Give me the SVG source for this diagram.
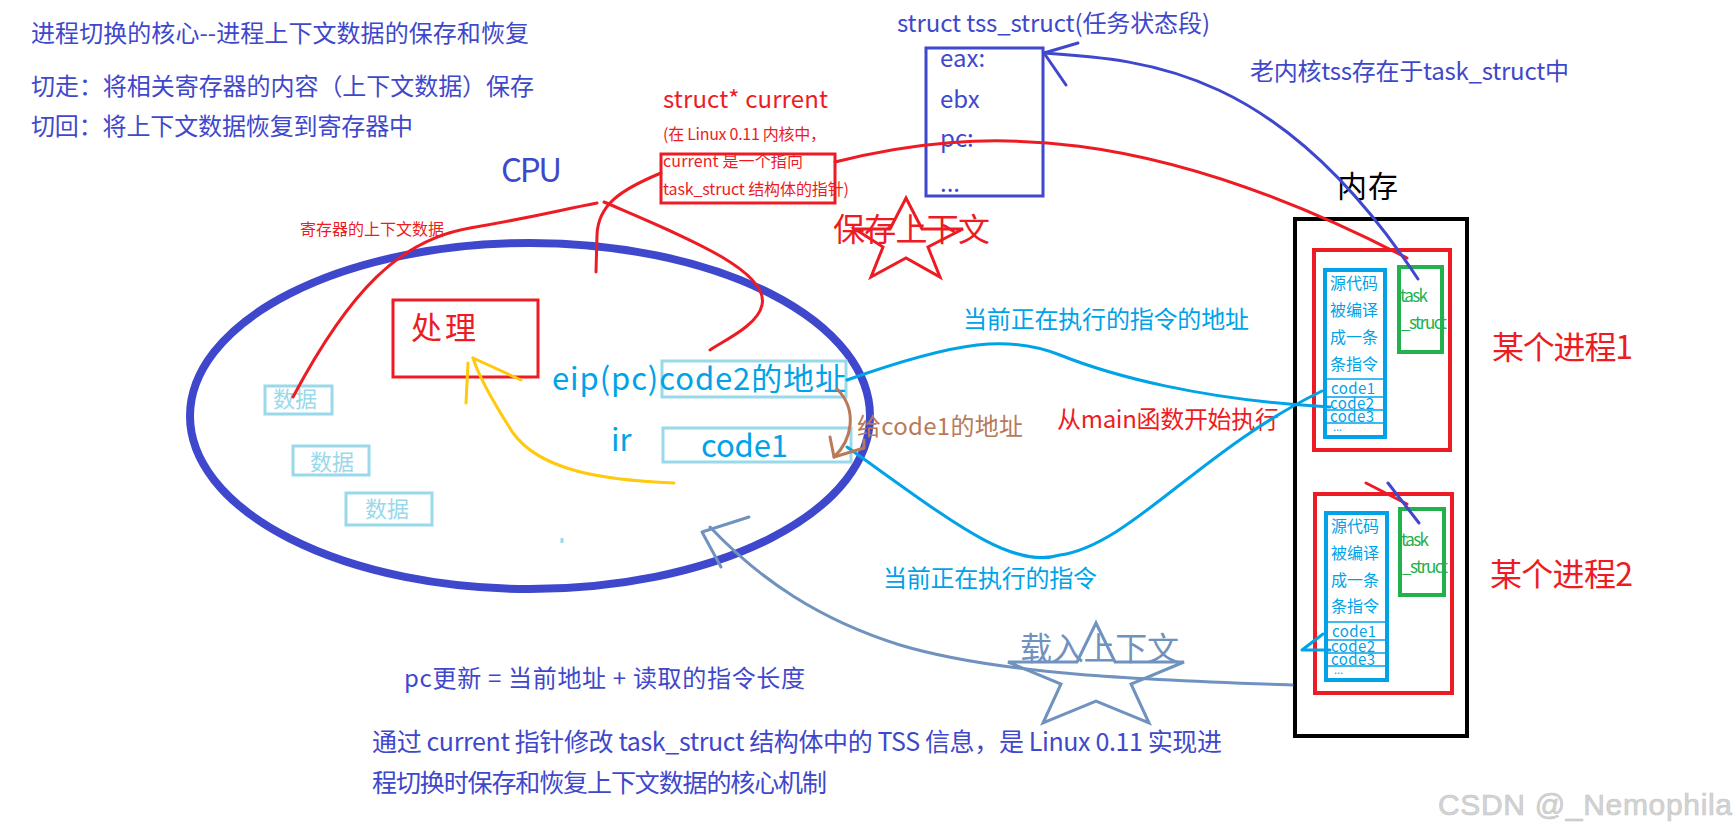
<svg xmlns="http://www.w3.org/2000/svg" width="1736" height="824" viewBox="0 0 1736 824">
<style>
text{font-family:"Noto Sans CJK SC","Noto Sans",sans-serif}
.pu{fill:#3f48cc}
.rd{fill:#ed1c24}
.cy{fill:#00a2e8}
.lb{fill:#99d9ea}
.gr{fill:#22b14c}
.br{fill:#b97a57}
.gb{fill:#7092be}
.ln{fill:none;stroke-linecap:round;stroke-linejoin:round}
.sred{stroke:#ed1c24;stroke-width:3}
.spu{stroke:#3f48cc;stroke-width:3}
.scy{stroke:#00a2e8;stroke-width:3}
.sgb{stroke:#7092be;stroke-width:3}
.sye{stroke:#ffc90e;stroke-width:3}
.sbr{stroke:#b97a57;stroke-width:3}
.sep{stroke:#00a2e8;stroke-width:1.5}
.code{font-size:15px}
</style>

<g id="titles">
<text x="31" y="42" font-size="24" class="pu" textLength="498">进程切换的核心--进程上下文数据的保存和恢复</text>
<text x="31" y="95" font-size="24" class="pu" textLength="503">切走：将相关寄存器的内容（上下文数据）保存</text>
<text x="31" y="135" font-size="24" class="pu" textLength="382">切回：将上下文数据恢复到寄存器中</text>
<text x="404" y="687" font-size="24" class="pu" textLength="401">pc更新 = 当前地址 + 读取的指令长度</text>
<text x="372" y="751" font-size="25" class="pu" textLength="850">通过 current 指针修改 task_struct 结构体中的 TSS 信息，是 Linux 0.11 实现进</text>
<text x="372" y="792" font-size="25" class="pu" textLength="455">程切换时保存和恢复上下文数据的核心机制</text>
<text x="1438" y="815" font-size="30" fill="#d4d4d4" stroke="#c4c4c4" stroke-width="0.6" style="font-family:'Liberation Sans',Arial,sans-serif" textLength="294">CSDN @_Nemophila</text>
</g>

<g id="cpu">
<ellipse cx="530" cy="416" rx="340" ry="173" fill="none" stroke="#3f48cc" stroke-width="8"/>
<text x="501" y="182" font-size="33" class="pu" textLength="61">CPU</text>
<line x1="562" y1="538" x2="562" y2="543" stroke="#99d9ea" stroke-width="3"/>
</g>

<g id="process-box">
<rect x="393" y="300" width="145" height="77" fill="none" stroke="#ed1c24" stroke-width="3"/>
<text x="411" y="339" font-size="31" class="rd" textLength="65">处理</text>
</g>

<g id="eip">
<rect x="662" y="361" width="184" height="36" fill="none" stroke="#99d9ea" stroke-width="3"/>
<text x="552" y="390" font-size="31" class="cy" textLength="294">eip(pc)code2的地址</text>
</g>

<g id="ir">
<rect x="663" y="428" width="188" height="34" fill="none" stroke="#99d9ea" stroke-width="3"/>
<text x="611" y="451" font-size="31" class="cy">ir</text>
<text x="701" y="457" font-size="31" class="cy" textLength="87">code1</text>
</g>

<g id="data1">
<rect x="265" y="386" width="67" height="28" fill="none" stroke="#99d9ea" stroke-width="3"/>
<text x="273" y="407" font-size="22" class="lb">数据</text>
</g>
<g id="data2">
<rect x="293" y="446" width="76" height="29" fill="none" stroke="#99d9ea" stroke-width="3"/>
<text x="310" y="470" font-size="22" class="lb">数据</text>
</g>
<g id="data3">
<rect x="346" y="493" width="86" height="32" fill="none" stroke="#99d9ea" stroke-width="3"/>
<text x="365" y="517" font-size="22" class="lb">数据</text>
</g>

<g id="current">
<text x="663" y="108" font-size="24" class="rd" textLength="165">struct* current</text>
<text x="663" y="140" font-size="16" class="rd" textLength="163">(在 Linux 0.11 内核中，</text>
<text x="663" y="167" font-size="16" class="rd" textLength="140">current 是一个指向</text>
<text x="663" y="195" font-size="16" class="rd" textLength="186">task_struct 结构体的指针)</text>
<rect x="661" y="154" width="174" height="49" fill="none" stroke="#ed1c24" stroke-width="3"/>
</g>

<g id="tss">
<text x="897" y="32" font-size="24" class="pu" textLength="313">struct tss_struct(任务状态段)</text>
<rect x="926" y="48" width="117" height="148" fill="none" stroke="#3f48cc" stroke-width="3"/>
<text x="940" y="67" font-size="24" class="pu">eax:</text>
<text x="940" y="108" font-size="24" class="pu">ebx</text>
<text x="940" y="147" font-size="24" class="pu">pc:</text>
<text x="940" y="192" font-size="24" class="pu">...</text>
</g>

<g id="labels">
<text x="300" y="235" font-size="16" class="rd" textLength="144">寄存器的上下文数据</text>
<text x="833" y="241" font-size="32" class="rd" textLength="157">保存上下文</text>
<text x="1250" y="80" font-size="24" class="pu" textLength="319">老内核tss存在于task_struct中</text>
<text x="963" y="328" font-size="24" class="cy" textLength="286">当前正在执行的指令的地址</text>
<text x="883" y="587" font-size="24" class="cy" textLength="214">当前正在执行的指令</text>
<text x="857" y="435" font-size="24" class="br" textLength="166">给code1的地址</text>
<text x="1057" y="428" font-size="24" class="rd" textLength="222">从main函数开始执行</text>
<text x="1020" y="660" font-size="32" class="gb" textLength="159">载入上下文</text>
</g>

<g id="stars">
<polygon points="906,198 922,229 963,229 928,247 940,277 906,258 871,277 883,247 855,229 890,229" fill="none" stroke="#ed1c24" stroke-width="3"/>
<polygon points="1096,623 1115,662 1184,662 1131,684 1149,723 1096,701 1043,723 1061,684 1008,662 1077,662" fill="none" stroke="#7092be" stroke-width="3"/>
</g>

<g id="memory">
<text x="1337" y="197" font-size="30" fill="#000" textLength="61">内存</text>
<rect x="1295" y="219" width="172" height="517" fill="none" stroke="#000" stroke-width="4"/>
</g>

<g id="proc1">
<rect x="1314" y="250" width="136" height="200" fill="none" stroke="#ed1c24" stroke-width="4"/>
<rect x="1325" y="270" width="60" height="167" fill="none" stroke="#00a2e8" stroke-width="4"/>
<text x="1330" y="289" font-size="16" class="cy" textLength="48">源代码</text>
<text x="1330" y="316" font-size="16" class="cy" textLength="48">被编译</text>
<text x="1330" y="343" font-size="16" class="cy" textLength="48">成一条</text>
<text x="1330" y="370" font-size="16" class="cy" textLength="48">条指令</text>
<line x1="1327" y1="379" x2="1385" y2="379" class="sep"/>
<line x1="1327" y1="397" x2="1385" y2="397" class="sep"/>
<line x1="1327" y1="410" x2="1385" y2="410" class="sep"/>
<line x1="1327" y1="423" x2="1385" y2="423" class="sep"/>
<text x="1331" y="394" class="cy code" textLength="44">code1</text>
<text x="1330" y="409" class="cy code" textLength="44">code2</text>
<text x="1330" y="422" class="cy code" textLength="44">code3</text>
<text x="1333" y="431" font-size="11" class="cy">...</text>
<rect x="1399" y="267" width="43" height="85" fill="none" stroke="#22b14c" stroke-width="4"/>
<text x="1400" y="302" font-size="17" class="gr" textLength="28">task</text>
<text x="1401" y="329" font-size="17" class="gr" textLength="46">_struct</text>
<text x="1492" y="359" font-size="32" class="rd" textLength="141">某个进程1</text>
</g>

<g id="proc2">
<rect x="1315" y="494" width="137" height="199" fill="none" stroke="#ed1c24" stroke-width="4"/>
<rect x="1326" y="513" width="61" height="167" fill="none" stroke="#00a2e8" stroke-width="4"/>
<text x="1331" y="532" font-size="16" class="cy" textLength="48">源代码</text>
<text x="1331" y="559" font-size="16" class="cy" textLength="48">被编译</text>
<text x="1331" y="586" font-size="16" class="cy" textLength="48">成一条</text>
<text x="1331" y="612" font-size="16" class="cy" textLength="48">条指令</text>
<line x1="1328" y1="622" x2="1387" y2="622" class="sep"/>
<line x1="1328" y1="640" x2="1387" y2="640" class="sep"/>
<line x1="1328" y1="653" x2="1387" y2="653" class="sep"/>
<line x1="1328" y1="666" x2="1387" y2="666" class="sep"/>
<text x="1332" y="637" class="cy code" textLength="44">code1</text>
<text x="1331" y="652" class="cy code" textLength="44">code2</text>
<text x="1331" y="665" class="cy code" textLength="44">code3</text>
<text x="1334" y="674" font-size="11" class="cy">...</text>
<rect x="1400" y="509" width="44" height="86" fill="none" stroke="#22b14c" stroke-width="4"/>
<text x="1401" y="546" font-size="17" class="gr" textLength="28">task</text>
<text x="1402" y="573" font-size="17" class="gr" textLength="46">_struct</text>
<text x="1490" y="586" font-size="32" class="rd" textLength="143">某个进程2</text>
</g>

<g id="connectors">
<path class="ln sred" d="M835,162 C980,125 1150,125 1407,258"/>
<path class="ln sred" d="M293,397 C350,290 400,240 470,228 S560,210 597,203"/>
<path class="ln sred" d="M604,202 C680,235 770,270 762,305 C758,325 725,340 710,350"/>
<path class="ln sred" d="M661,173 C620,190 598,205 597,235 L596,272"/>
<path class="ln sred" d="M1366,483 L1407,504"/>
<path class="ln spu" d="M1044,53 C1150,60 1280,70 1418,279"/>
<path class="ln spu" d="M1078,43 L1044,53 L1066,85"/>
<path class="ln spu" d="M1388,483 L1419,523"/>
<path class="ln scy" d="M847,380 C960,340 1010,335 1060,355 S1200,400 1330,407"/>
<path class="ln scy" d="M847,447 C950,520 1010,570 1060,555 C1130,545 1200,450 1322,391"/>
<path class="ln scy" d="M1323,634 L1302,650 L1330,650"/>
<path class="ln sye" d="M674,483 C600,480 540,470 513,433 C495,405 480,380 473,358"/>
<path class="ln sye" d="M521,380 L473,358"/>
<path class="ln sye" d="M468,363 L466,403"/>
<path class="ln sbr" d="M837,389 C858,410 852,440 834,457"/>
<path class="ln sbr" d="M830,437 L834,457 L864,448 L864,440"/>
<path class="ln sgb" d="M1292,685 C1150,680 1000,675 900,645 C820,620 760,580 710,527"/>
<path class="ln sgb" d="M749,517 L702,532 L721,567"/>
</g>
</svg>
